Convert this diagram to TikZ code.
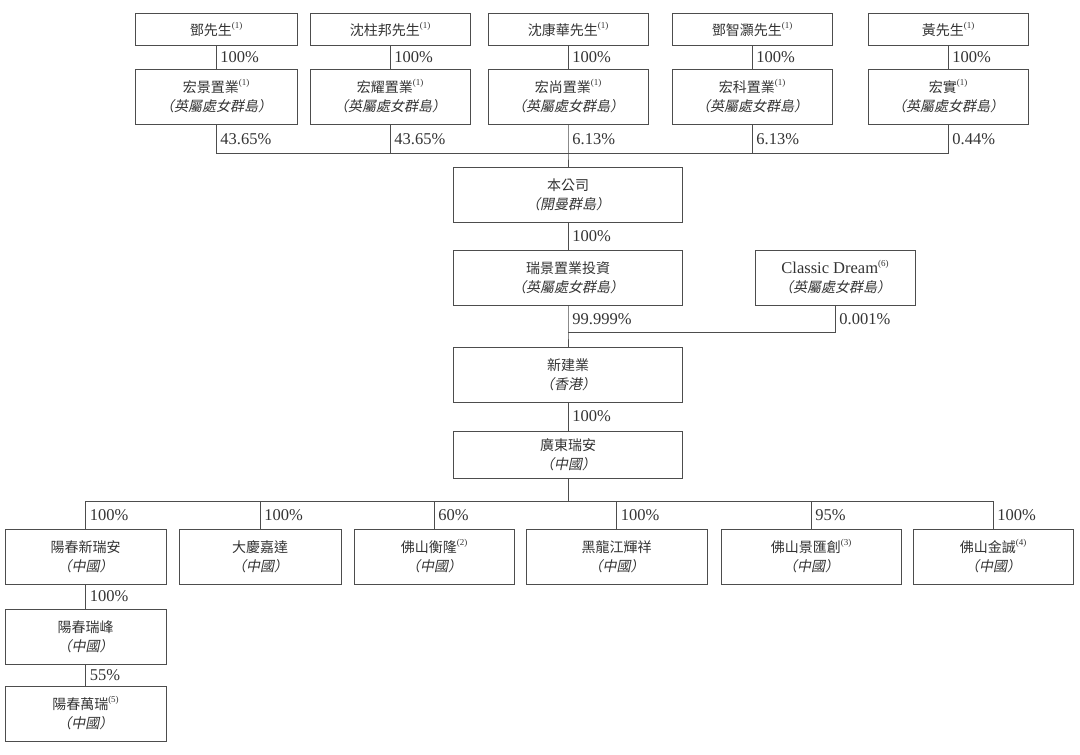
\documentclass[tikz,border=0pt]{standalone}
\usepackage{fontspec}
\setmainfont{Liberation Serif}
\newfontfamily\cjk[AutoFakeSlant=0.2]{Noto Sans CJK TC}
\definecolor{txtgray}{HTML}{333333}
\definecolor{boxgray}{HTML}{4D4D4D}
\newcommand{\nt}[1]{\raisebox{0.5em}{\normalfont\fontsize{9}{9}\selectfont(#1)}}
\newcommand{\place}[1]{{\itshape （#1）}}
\begin{document}
\begin{tikzpicture}[
        x=1pt, y=-1pt,
        every node/.style={font=\cjk\fontsize{14}{19}\selectfont, text=txtgray},
        entity/.style={draw=boxgray, line width=0.8pt, minimum height=55pt, align=center, inner sep=0pt},
        person/.style={entity, minimum height=32pt},
        pct/.style={anchor=west, inner xsep=4pt, inner ysep=1pt, font=\fontsize{16.5}{16.5}\selectfont},
        link/.style={draw=boxgray, line width=0.8pt}
    ]
      \useasboundingbox (0,0) rectangle (1080,755);

      % Shareholders
      \node[person, minimum width=162pt] (deng) at (216,29) {鄧先生\nt{1}};
      \node[person, minimum width=160pt] (shenzb) at (390,29) {沈柱邦先生\nt{1}};
      \node[person, minimum width=160pt] (shenkh) at (568,29) {沈康華先生\nt{1}};
      \node[person, minimum width=160pt] (dengzh) at (752,29) {鄧智灝先生\nt{1}};
      \node[person, minimum width=160pt] (huang) at (948,29) {黃先生\nt{1}};

      % Holding companies
      \node[entity, minimum width=162pt] (hongjing) at (216,96.5) {宏景置業\nt{1}\\\place{英屬處女群島}};
      \node[entity, minimum width=160pt] (hongyao) at (390,96.5) {宏耀置業\nt{1}\\\place{英屬處女群島}};
      \node[entity, minimum width=160pt] (hongshang) at (568,96.5) {宏尚置業\nt{1}\\\place{英屬處女群島}};
      \node[entity, minimum width=160pt] (hongke) at (752,96.5) {宏科置業\nt{1}\\\place{英屬處女群島}};
      \node[entity, minimum width=160pt] (hongshi) at (948,96.5) {宏實\nt{1}\\\place{英屬處女群島}};

      \draw[link] (deng) -- node[pct] {100\%} (hongjing);
      \draw[link] (shenzb) -- node[pct] {100\%} (hongyao);
      \draw[link] (shenkh) -- node[pct] {100\%} (hongshang);
      \draw[link] (dengzh) -- node[pct] {100\%} (hongke);
      \draw[link] (huang) -- node[pct] {100\%} (hongshi);

      % Company and its chain
      \node[entity, minimum width=229pt] (company) at (568,194.5) {本公司\\\place{開曼群島}};
      \node[entity, minimum width=229pt] (ruijing) at (568,277.5) {瑞景置業投資\\\place{英屬處女群島}};
      \node[entity, minimum width=160pt] (classic) at (835,277.5) {{\normalfont\fontsize{16.5}{19}\selectfont Classic Dream}\nt{6}\\\place{英屬處女群島}};
      \node[entity, minimum width=229pt] (xinjian) at (568,374.5) {新建業\\\place{香港}};
      \node[entity, minimum width=229pt, minimum height=47pt] (guangdong) at (568,454.5) {廣東瑞安\\\place{中國}};

      \coordinate (topbus) at (company.north |- 0,153);
      \draw[link] (hongshi.south) -- node[pct] {0.44\%} (hongshi.south |- topbus) -- (hongjing.south |- topbus) -- node[pct] {43.65\%} (hongjing.south);
      \draw[link] (hongyao.south) -- node[pct] {43.65\%} (hongyao.south |- topbus);
      \draw[link] (hongke.south) -- node[pct] {6.13\%} (hongke.south |- topbus);
      \draw[link] (hongshang.south) -- node[pct] {6.13\%} (topbus) -- (company.north);

      \draw[link] (company) -- node[pct] {100\%} (ruijing);
      \coordinate (midbus) at (ruijing.south |- 0,332);
      \draw[link] (ruijing.south) -- node[pct] {99.999\%} (midbus) -- (xinjian.north);
      \draw[link] (classic.south) -- node[pct] {0.001\%} (classic.south |- midbus) -- (midbus);
      \draw[link] (xinjian) -- node[pct] {100\%} (guangdong);

      % Subsidiaries
      \node[entity, minimum width=161pt] (ycxra) at (85.5,556.5) {陽春新瑞安\\\place{中國}};
      \node[entity, minimum width=162pt] (dqjd) at (260,556.5) {大慶嘉達\\\place{中國}};
      \node[entity, minimum width=160pt] (fshl) at (434,556.5) {佛山衡隆\nt{2}\\\place{中國}};
      \node[entity, minimum width=181pt] (hljhx) at (616.5,556.5) {黑龍江輝祥\\\place{中國}};
      \node[entity, minimum width=180pt] (fsjhc) at (811,556.5) {佛山景匯創\nt{3}\\\place{中國}};
      \node[entity, minimum width=160pt] (fsjc) at (993,556.5) {佛山金誠\nt{4}\\\place{中國}};
      \node[entity, minimum width=161pt] (ycrf) at (85.5,636.5) {陽春瑞峰\\\place{中國}};
      \node[entity, minimum width=161pt] (ycwr) at (85.5,713.5) {陽春萬瑞\nt{5}\\\place{中國}};

      \coordinate (lowbus) at (guangdong.south |- 0,501);
      \draw[link] (guangdong.south) -- (lowbus);
      \draw[link] (ycxra.north) -- node[pct] {100\%} (ycxra.north |- lowbus) -- (fsjc.north |- lowbus) -- node[pct] {100\%} (fsjc.north);
      \draw[link] (dqjd.north) -- node[pct] {100\%} (dqjd.north |- lowbus);
      \draw[link] (fshl.north) -- node[pct] {60\%} (fshl.north |- lowbus);
      \draw[link] (hljhx.north) -- node[pct] {100\%} (hljhx.north |- lowbus);
      \draw[link] (fsjhc.north) -- node[pct] {95\%} (fsjhc.north |- lowbus);

      \draw[link] (ycxra) -- node[pct] {100\%} (ycrf);
      \draw[link] (ycrf) -- node[pct] {55\%} (ycwr);
    \end{tikzpicture}
\end{document}
